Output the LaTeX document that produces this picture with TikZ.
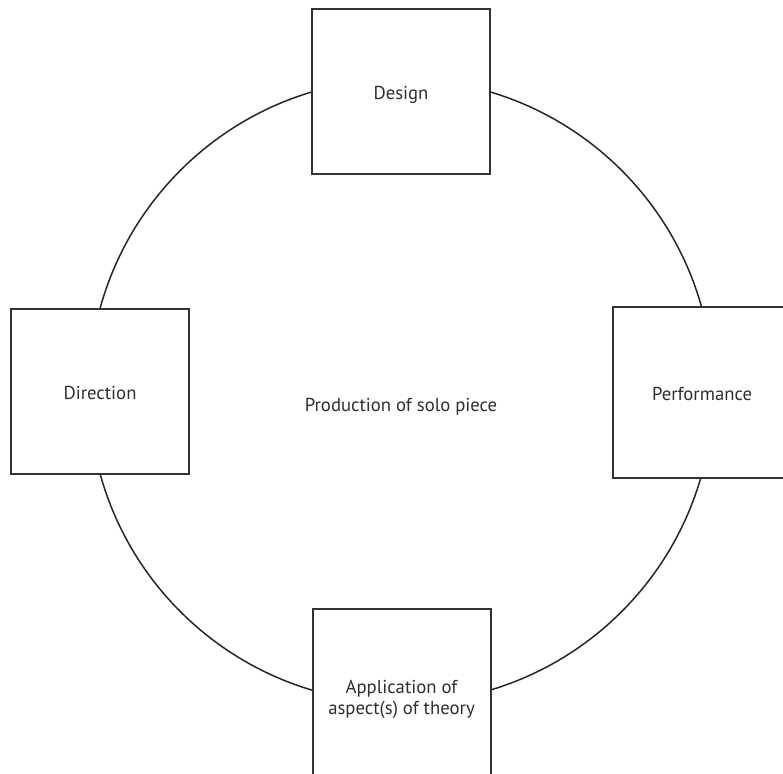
\documentclass[tikz,border=0pt]{standalone}
\usepackage{fontspec}
\setmainfont{PT Sans}
\begin{document}
\begin{tikzpicture}[x=1pt,y=-1pt,
  every node/.style={font=\fontsize{18.7}{21}\selectfont, text=black!82},
  stagebox/.style={draw=black!80, line width=2pt, fill=white, minimum width=178pt, minimum height=165pt, inner sep=0pt},
  oneline/.style={text height=20pt, text depth=4pt},
  ring/.style={draw=black!85, line width=1.5pt, circle, minimum size=624pt, inner sep=0pt}]
\useasboundingbox (0,0) rectangle (783,773);
\clip (0,0) rectangle (783,773);
\node[ring] (ring) at (401,391) {};
\node (centre) at (401,407) {Production of solo piece};
\node[stagebox, oneline] (design) at (401,91.5) {Design};
\node[stagebox, oneline] (direction) at (100,391.5) {Direction};
\node[stagebox, oneline, minimum height=171pt] (performance) at (702,392.5) {Performance};
\node[stagebox, minimum height=166pt] (theory) at (401.5,692) {\begin{tabular}{@{}c@{}}\rule{0pt}{30.7pt}Application of\\aspect(s) of theory\end{tabular}};
\end{tikzpicture}
\end{document}
